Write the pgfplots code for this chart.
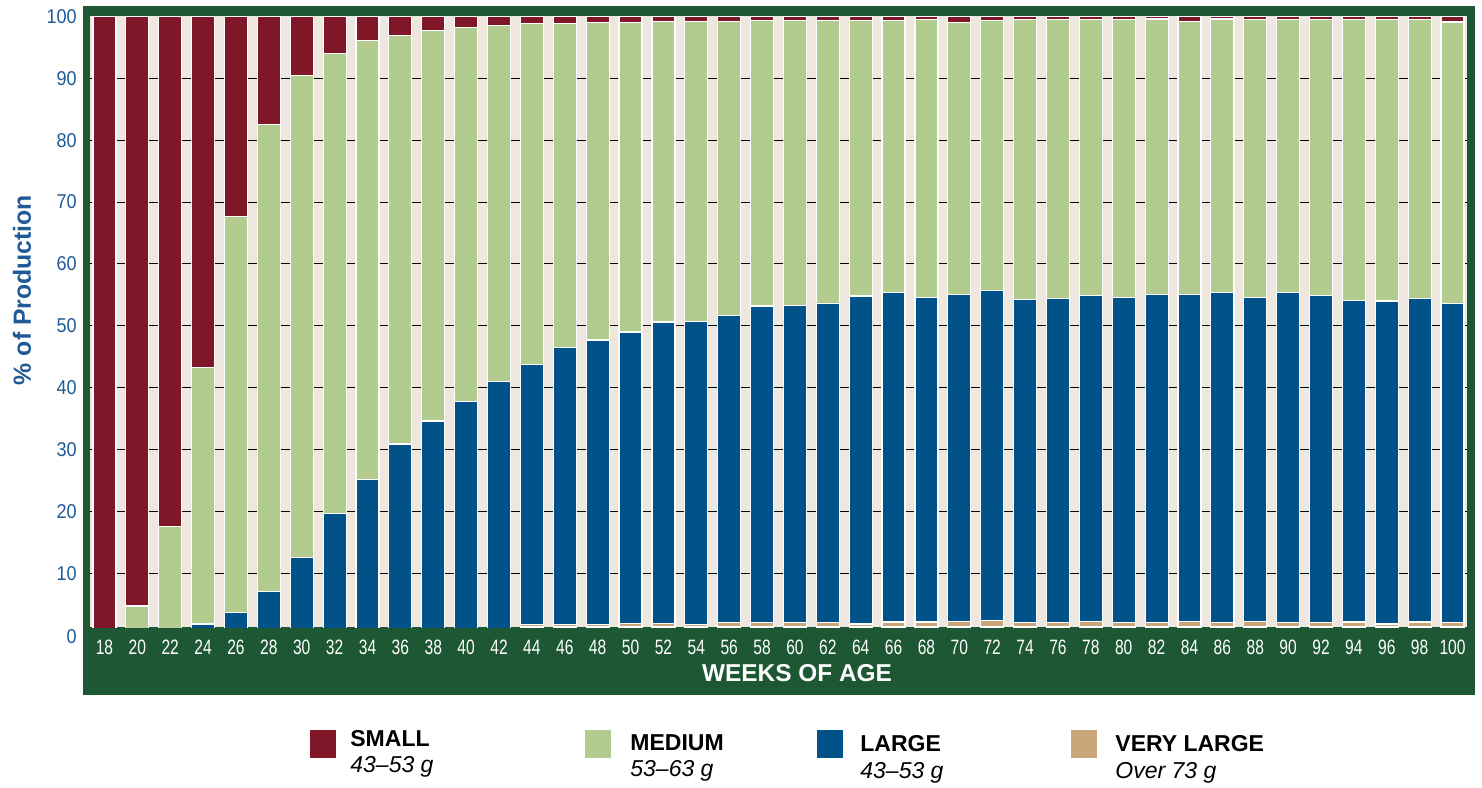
\documentclass[border=0pt]{standalone}
\usepackage{pgfplots}
\usepackage{pgfplotstable}
\pgfplotsset{compat=1.18}
\usepackage{fontspec}
\setmainfont{Liberation Sans}
\newfontfamily\xcond[FakeStretch=0.75]{Liberation Sans}
\newfontfamily\ycond[FakeStretch=0.9]{Liberation Sans}
\definecolor{frameG}{RGB}{29,87,51}
\definecolor{beige}{RGB}{238,231,223}
\definecolor{smallC}{RGB}{127,23,40}
\definecolor{medC}{RGB}{178,204,143}
\definecolor{largeC}{RGB}{0,82,136}
\definecolor{vlC}{RGB}{203,165,122}
\definecolor{labB}{RGB}{31,90,150}

\pgfplotstableread{
wk vl l m s
18 0 0 0 100
20 0 0 4.7 95.3
22 0 0 17.6 82.4
24 0 1.8 41.5 56.7
26 0 3.6 64.1 32.3
28 0 7.1 75.5 17.4
30 0 12.6 77.9 9.5
32 0 19.7 74.3 6.0
34 0 25.2 70.9 3.9
36 0 30.9 66.0 3.1
38 0 34.6 63.1 2.3
40 0 37.8 60.4 1.8
42 0 41.0 57.5 1.5
44 1.65 42.15 55.1 1.1
46 1.7 44.8 52.4 1.1
48 1.7 46.0 51.3 1.0
50 1.9 47.1 50.0 1.0
52 1.9 48.7 48.6 0.8
54 1.7 49.0 48.5 0.8
56 2.0 49.7 47.5 0.8
58 2.0 51.2 46.2 0.6
60 2.0 51.3 46.1 0.6
62 2.0 51.6 45.8 0.6
64 1.8 53.0 44.6 0.6
66 2.1 53.3 44.0 0.6
68 2.1 52.5 44.9 0.5
70 2.2 52.9 43.9 1.0
72 2.4 53.3 43.7 0.6
74 2.0 52.3 45.2 0.5
76 2.0 52.4 45.1 0.5
78 2.15 52.75 44.6 0.5
80 2.0 52.6 44.9 0.5
82 2.0 53.1 44.5 0.4
84 2.2 52.9 44.1 0.8
86 2.0 53.4 44.2 0.4
88 2.15 52.45 44.9 0.5
90 2.0 53.4 44.1 0.5
92 2.0 52.9 44.6 0.5
94 2.1 52.0 45.4 0.5
96 1.8 52.2 45.5 0.5
98 2.1 52.3 45.1 0.5
100 2.0 51.6 45.5 0.9
}\data

\begin{document}
\begin{tikzpicture}[x=1pt,y=1pt]
\path[use as bounding box] (0,0) rectangle (741,393.5);
\fill[frameG] (41.5,46) rectangle (737.5,390.5);
\begin{axis}[
  at={(45pt,80pt)}, anchor=south west,
  scale only axis, width=688.5pt, height=305.25pt,
  ybar stacked, bar width=1.4,
  xmin=17.12, xmax=100.88, ymin=1.3, ymax=100,
  axis background/.style={fill=beige},
  axis line style={draw=none},
  ytick={10,20,...,90}, extra y ticks={100}, extra y tick style={grid=none},
  ymajorgrids, major grid style={black, line width=0.5pt},
  xtick={18,20,...,100},
  major tick length=0pt,
  /pgf/number format/assume math mode=true,
  xticklabel style={font=\xcond\fontsize{10.4}{12}\selectfont, text=white, anchor=base, inner sep=0pt, yshift=-13.5pt},
  yticklabel style={font=\ycond\fontsize{10}{12}\selectfont, text=labB, anchor=east, inner sep=0pt, xshift=-6.5pt},
]
\addplot[fill=vlC, draw=white, line width=0.6pt] table[x=wk,y=vl]{\data};
\addplot[fill=largeC, draw=white, line width=0.6pt] table[x=wk,y=l]{\data};
\addplot[fill=medC, draw=white, line width=0.6pt] table[x=wk,y=m]{\data};
\addplot[fill=smallC, draw=white, line width=0.6pt] table[x=wk,y=s]{\data};
\end{axis}
% zero label (below the visible axis range)
\node[anchor=east, inner sep=0pt, text=labB, font=\ycond\fontsize{10}{12}\selectfont] at (38.5,75) {0};
% axis titles
\node[anchor=base, inner sep=0pt, text=white, font=\bfseries\fontsize{12.2}{14}\selectfont] at (398.5,52.5) {WEEKS OF AGE};
\node[rotate=90, inner sep=0pt, text=labB, font=\bfseries\fontsize{12.4}{14}\selectfont] at (11,248.5) {\% of Production};
% legend
\fill[smallC] (155,14.5) rectangle (168,28.5);
\fill[medC] (292.5,14.5) rectangle (305.5,28.5);
\fill[largeC] (408.5,14.5) rectangle (421.5,28.5);
\fill[vlC] (535.5,14.5) rectangle (548.5,28.5);
\begin{scope}[every node/.style={anchor=base west, inner sep=0pt}]
\node[font=\bfseries\fontsize{11.5}{13}\selectfont] at (175,20.5) {SMALL};
\node[font=\itshape\fontsize{11.5}{13}\selectfont] at (175,7.5) {43–53 g};
\node[font=\bfseries\fontsize{11.5}{13}\selectfont] at (315,18.5) {MEDIUM};
\node[font=\itshape\fontsize{11.5}{13}\selectfont] at (315,5.5) {53–63 g};
\node[font=\bfseries\fontsize{11.5}{13}\selectfont] at (430,18) {LARGE};
\node[font=\itshape\fontsize{11.5}{13}\selectfont] at (430,4.5) {43–53 g};
\node[font=\bfseries\fontsize{11.5}{13}\selectfont] at (557.5,18) {VERY LARGE};
\node[font=\itshape\fontsize{11.5}{13}\selectfont] at (557.5,4.5) {Over 73 g};
\end{scope}
\end{tikzpicture}
\end{document}
